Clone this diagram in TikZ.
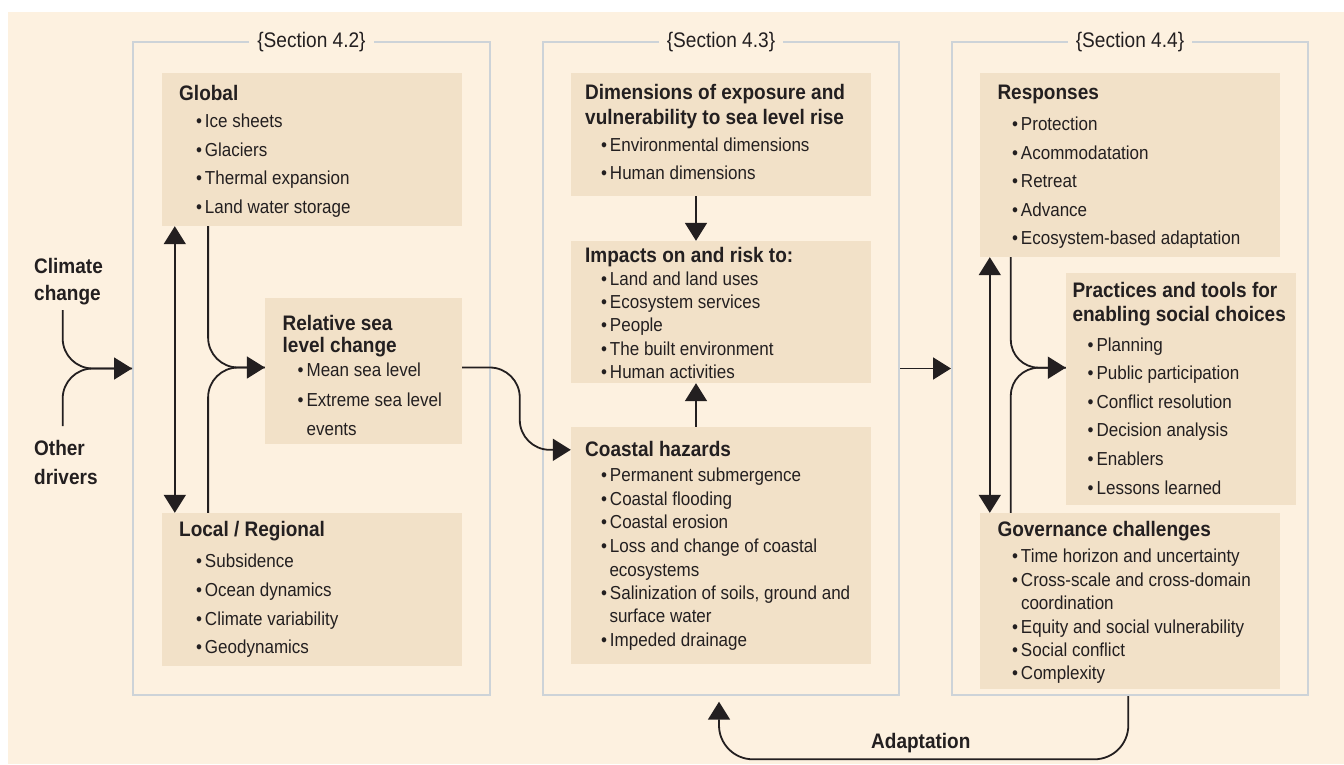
\documentclass[tikz,border=0pt]{standalone}
\usepackage{fontspec}
\setmainfont{Liberation Sans}[FakeStretch=0.905]
\usetikzlibrary{arrows.meta,calc}
\definecolor{bgc}{HTML}{FDF1E0}
\definecolor{boxc}{HTML}{F2E1C8}
\definecolor{framec}{HTML}{CDD3D8}
\definecolor{ink}{HTML}{231F20}
\newcommand\ttlnode[3]{\node[ttl] (#1) at (#2) {#3};}
\newcommand\itmnode[3]{\node[itm] (#1) at (#2) {\makebox[9pt][l]{\textbullet}#3};}
\newcommand\contnode[3]{\node[itm] (#1) at (#2) {#3};}
\begin{document}
\begin{tikzpicture}[x=1pt,y=-1pt,
  box/.style={draw=none,fill=boxc,inner sep=0pt,anchor=center},
  frm/.style={draw=framec,line width=2pt,inner sep=0pt,anchor=center},
  ttl/.style={anchor=base west,inner sep=0pt,text=ink,font=\fontsize{21}{24}\selectfont\bfseries},
  itm/.style={anchor=base west,inner sep=0pt,text=ink,font=\fontsize{18.8}{22}\selectfont},
  sec/.style={anchor=base,inner xsep=8pt,inner ysep=3pt,fill=bgc,text=ink,font=\fontsize{21.1}{24}\selectfont},
  conn/.style={draw=ink,line width=1.8pt},
  arr/.style={conn,-{Triangle[length=18pt,width=22pt]}},
  darr/.style={conn,{Triangle[length=18pt,width=22pt]}-{Triangle[length=18pt,width=22pt]}},
]
\useasboundingbox (0,0) rectangle (1344,764);
\fill[bgc] (8,12) rectangle (1344,764);

% frames
\node[frm, minimum width=357pt, minimum height=653pt] (f42) at (311.5,368.5) {};
\node[frm, minimum width=356pt, minimum height=653pt] (f43) at (721,368.5) {};
\node[frm, minimum width=356pt, minimum height=653pt] (f44) at (1130,368.5) {};
\node[sec] (s42) at ([yshift=-6pt]f42.north) {\{Section 4.2\}};
\node[sec] (s43) at ([yshift=-6pt]f43.north) {\{Section 4.3\}};
\node[sec] (s44) at ([yshift=-6pt]f44.north) {\{Section 4.4\}};

% boxes
\node[box, minimum width=300pt, minimum height=153pt] (global) at (312,149.5) {};
\node[box, minimum width=197pt, minimum height=146pt] (relsea) at (363.5,371) {};
\node[box, minimum width=300pt, minimum height=153pt] (local) at (312,589.5) {};
\node[box, minimum width=300pt, minimum height=123pt] (dims) at (721,134.5) {};
\node[box, minimum width=300pt, minimum height=142pt] (impacts) at (721,312) {};
\node[box, minimum width=300pt, minimum height=237pt] (hazards) at (721,545.5) {};
\node[box, minimum width=300pt, minimum height=184pt] (responses) at (1130,165) {};
\node[box, minimum width=230pt, minimum height=232pt] (practices) at (1181,389) {};
\node[box, minimum width=300pt, minimum height=176pt] (governance) at (1130,601) {};

% Global
\ttlnode{gT}{179,100}{Global}
\itmnode{g1}{195.8,127.3}{Ice sheets}
\itmnode{g2}{195.8,156}{Glaciers}
\itmnode{g3}{195.8,184.5}{Thermal expansion}
\itmnode{g4}{195.8,213}{Land water storage}
% Relative sea level change
\ttlnode{rT1}{282.5,330}{Relative sea}
\ttlnode{rT2}{282.5,352}{level change}
\itmnode{r1}{297.4,376.5}{Mean sea level}
\itmnode{r2}{297.4,406}{Extreme sea level}
\contnode{r2b}{306.4,435}{events}
% Local
\ttlnode{lT}{179,536.7}{Local / Regional}
\itmnode{l1}{195.8,567.3}{Subsidence}
\itmnode{l2}{195.8,596.7}{Ocean dynamics}
\itmnode{l3}{195.8,625.7}{Climate variability}
\itmnode{l4}{195.8,653.3}{Geodynamics}
% Dimensions
\ttlnode{dT1}{585,99.3}{Dimensions of exposure and}
\ttlnode{dT2}{585,124}{vulnerability to sea level rise}
\itmnode{d1}{600.8,151.7}{Environmental dimensions}
\itmnode{d2}{600.8,179.3}{Human dimensions}
% Impacts
\ttlnode{iT}{585,262.7}{Impacts on and risk to:}
\itmnode{i1}{600.8,285}{Land and land uses}
\itmnode{i2}{600.8,308.3}{Ecosystem services}
\itmnode{i3}{600.8,331.7}{People}
\itmnode{i4}{600.8,355.5}{The built environment}
\itmnode{i5}{600.8,378.3}{Human activities}
% Coastal hazards
\ttlnode{hT}{585,456}{Coastal hazards}
\itmnode{h1}{600.8,481.7}{Permanent submergence}
\itmnode{h2}{600.8,505.5}{Coastal flooding}
\itmnode{h3}{600.8,528.7}{Coastal erosion}
\itmnode{h4}{600.8,552.5}{Loss and change of coastal}
\contnode{h4b}{609.3,576}{ecosystems}
\itmnode{h5}{600.8,599.3}{Salinization of soils, ground and}
\contnode{h5b}{609.3,622.7}{surface water}
\itmnode{h6}{600.8,646}{Impeded drainage}
% Responses
\ttlnode{pT}{997.3,99.3}{Responses}
\itmnode{p1}{1011.8,130}{Protection}
\itmnode{p2}{1011.8,159}{Acommodatation}
\itmnode{p3}{1011.8,187.3}{Retreat}
\itmnode{p4}{1011.8,216}{Advance}
\itmnode{p5}{1011.8,244.3}{Ecosystem-based adaptation}
% Practices
\ttlnode{tT1}{1072.3,297.7}{Practices and tools for}
\ttlnode{tT2}{1072.3,321}{enabling social choices}
\itmnode{t1}{1087.4,351}{Planning}
\itmnode{t2}{1087.4,379.6}{Public participation}
\itmnode{t3}{1087.4,408.2}{Conflict resolution}
\itmnode{t4}{1087.4,436.8}{Decision analysis}
\itmnode{t5}{1087.4,465.4}{Enablers}
\itmnode{t6}{1087.4,494}{Lessons learned}
% Governance
\ttlnode{vT}{997.3,536.7}{Governance challenges}
\itmnode{v1}{1011.8,562.3}{Time horizon and uncertainty}
\itmnode{v2}{1011.8,586}{Cross-scale and cross-domain}
\contnode{v2b}{1020.8,609.3}{coordination}
\itmnode{v3}{1011.8,633.3}{Equity and social vulnerability}
\itmnode{v4}{1011.8,656}{Social conflict}
\itmnode{v5}{1011.8,679.3}{Complexity}

% drivers
\ttlnode{cc1}{34,273.3}{Climate}
\ttlnode{cc2}{34,300}{change}
\ttlnode{od1}{34,455}{Other}
\ttlnode{od2}{34,484}{drivers}
\ttlnode{adapt}{871,748.3}{Adaptation}
\coordinate (ccS) at (62.7,310);
\coordinate (odN) at (62.7,426);
\coordinate (adaptBot) at (900,759.3);
\coordinate (sA) at ([yshift=3.5pt]relsea.east);
\coordinate (sB) at ([yshift=-23pt]hazards.north west);
\coordinate (sM) at ($(sA)!0.53!(sB)$);

% connectors
\draw[arr, rounded corners=30pt] (ccS) |- (f42.west);
\draw[conn, rounded corners=30pt] (odN) |- (f42.west);
\draw[darr] ([xshift=13pt]global.south west) -- ([xshift=13pt]local.north west);
\draw[arr, rounded corners=30pt] ([xshift=46.3pt]global.south west) |- ([yshift=3.5pt]relsea.west);
\draw[conn, rounded corners=30pt] ([xshift=46.3pt]local.north west) |- ([yshift=3.5pt]relsea.west);
\draw[arr, rounded corners=30pt] (sA) -- (sA -| sM) -- (sM |- sB) -- (sB);
\draw[arr] ([xshift=-25pt]dims.south) -- ([xshift=-25pt]impacts.north);
\draw[arr] ([xshift=-25pt]hazards.north) -- ([xshift=-25pt]impacts.south);
\draw[arr] (f43.east) -- (f44.west);
\draw[darr] ([xshift=10pt]responses.south west) -- ([xshift=10pt]governance.north west);
\draw[arr, rounded corners=28pt] ([xshift=31pt]responses.south west) |- ([yshift=21.3pt]practices.west);
\draw[conn, rounded corners=28pt] ([xshift=31pt]governance.north west) |- ([yshift=21.3pt]practices.west);
\draw[arr, rounded corners=34pt] ([xshift=-1.7pt]f44.south) -- ([xshift=-1.7pt]f44.south |- adaptBot) -- ([xshift=-2pt]f43.south |- adaptBot) -- ([xshift=-2pt,yshift=-5.7pt]f43.south);
\end{tikzpicture}
\end{document}
